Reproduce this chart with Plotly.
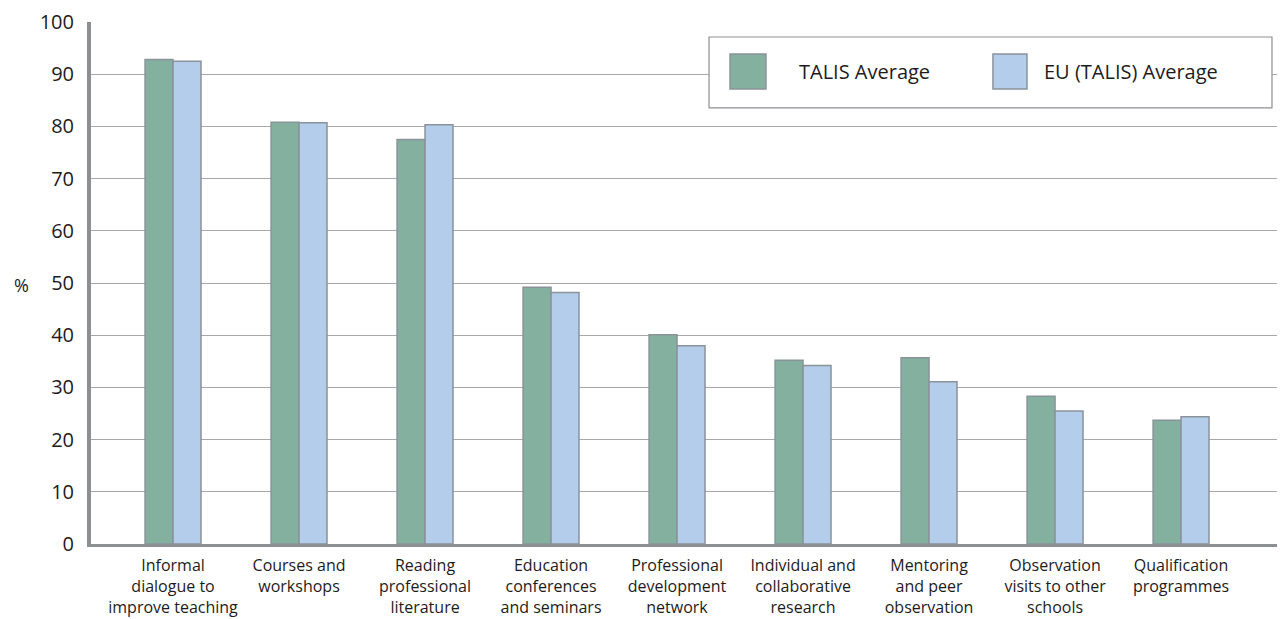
import plotly.graph_objects as go

categories = [
    "Informal<br>dialogue to<br>improve teaching",
    "Courses and<br>workshops",
    "Reading<br>professional<br>literature",
    "Education<br>conferences<br>and seminars",
    "Professional<br>development<br>network",
    "Individual and<br>collaborative<br>research",
    "Mentoring<br>and peer<br>observation",
    "Observation<br>visits to other<br>schools",
    "Qualification<br>programmes",
]
talis_avg = [92.8, 80.8, 77.5, 49.2, 40.1, 35.2, 35.7, 28.3, 23.7]
eu_avg = [92.5, 80.7, 80.3, 48.2, 38.0, 34.2, 31.1, 25.5, 24.4]
series_names = ["TALIS Average", "EU (TALIS) Average"]
y_ticks = [0, 10, 20, 30, 40, 50, 60, 70, 80, 90, 100]

GREEN = "#84B09F"
BLUE = "#B3CDEB"
EDGE = "#8A9399"
FONT = "Open Sans"
TEXT = "#1E1B1C"

x_idx = list(range(len(categories)))

fig = go.Figure()
fig.add_trace(go.Bar(x=x_idx, y=talis_avg, name=series_names[0],
                     marker=dict(color=GREEN, line=dict(color=EDGE, width=1.5))))
fig.add_trace(go.Bar(x=x_idx, y=eu_avg, name=series_names[1],
                     marker=dict(color=BLUE, line=dict(color=EDGE, width=1.5))))

# page has an 8px body margin: figure occupies 1277x611 starting at (8, 8)
fig.update_layout(
    width=1277, height=611,
    margin=dict(l=83, r=0, t=14, b=74.5, autoexpand=False),
    paper_bgcolor="white", plot_bgcolor="white",
    barmode="group", bargap=0.556, bargroupgap=0,
    showlegend=False,
    font=dict(family=FONT, color=TEXT),
    xaxis=dict(
        range=[-0.651, 8.825],
        tickmode="array", tickvals=x_idx, ticktext=categories,
        tickfont=dict(size=16, color=TEXT, family=FONT),
        showgrid=False, zeroline=False,
        showline=True, linecolor="#8D8F93", linewidth=3,
        ticks="", ticklabelstandoff=5,
        automargin=False,
        fixedrange=True,
    ),
    yaxis=dict(
        range=[0, 100],
        tickmode="array", tickvals=y_ticks,
        ticktext=[str(v) for v in y_ticks],
        tickfont=dict(size=20, color=TEXT, family=FONT),
        showgrid=True, gridcolor="#A8A8A8", gridwidth=1.2,
        zeroline=False,
        showline=True, linecolor="#8D8F93", linewidth=4,
        ticks="", ticklabelstandoff=9,
        automargin=False,
        fixedrange=True,
    ),
)

# manual legend (large swatches, boxed)
fig.add_shape(type="rect", xref="paper", yref="paper",
              x0=0.5176, x1=0.9891, y0=0.8354, y1=0.9713,
              line=dict(color="#8D8F93", width=1.2), fillcolor="white", layer="above")
swatches = [(0.5352, 0.5653, GREEN), (0.7554, 0.7839, BLUE)]
text_x = [0.5913, 0.7965]
for (sx0, sx1, col), tx, name in zip(swatches, text_x, series_names):
    fig.add_shape(type="rect", xref="paper", yref="paper",
                  x0=sx0, x1=sx1, y0=0.8718, y1=0.9388,
                  line=dict(color=EDGE, width=1.5), fillcolor=col, layer="above")
    fig.add_annotation(xref="paper", yref="paper", x=tx, y=0.9043,
                       text=name, showarrow=False, xanchor="left", yanchor="middle",
                       font=dict(size=20, color=TEXT, family=FONT))

fig.add_annotation(xref="paper", yref="paper", x=-0.0586, y=0.4967,
                   text="%", showarrow=False, xanchor="center", yanchor="middle",
                   font=dict(size=18, color=TEXT, family=FONT))

fig.write_html("out.html")
